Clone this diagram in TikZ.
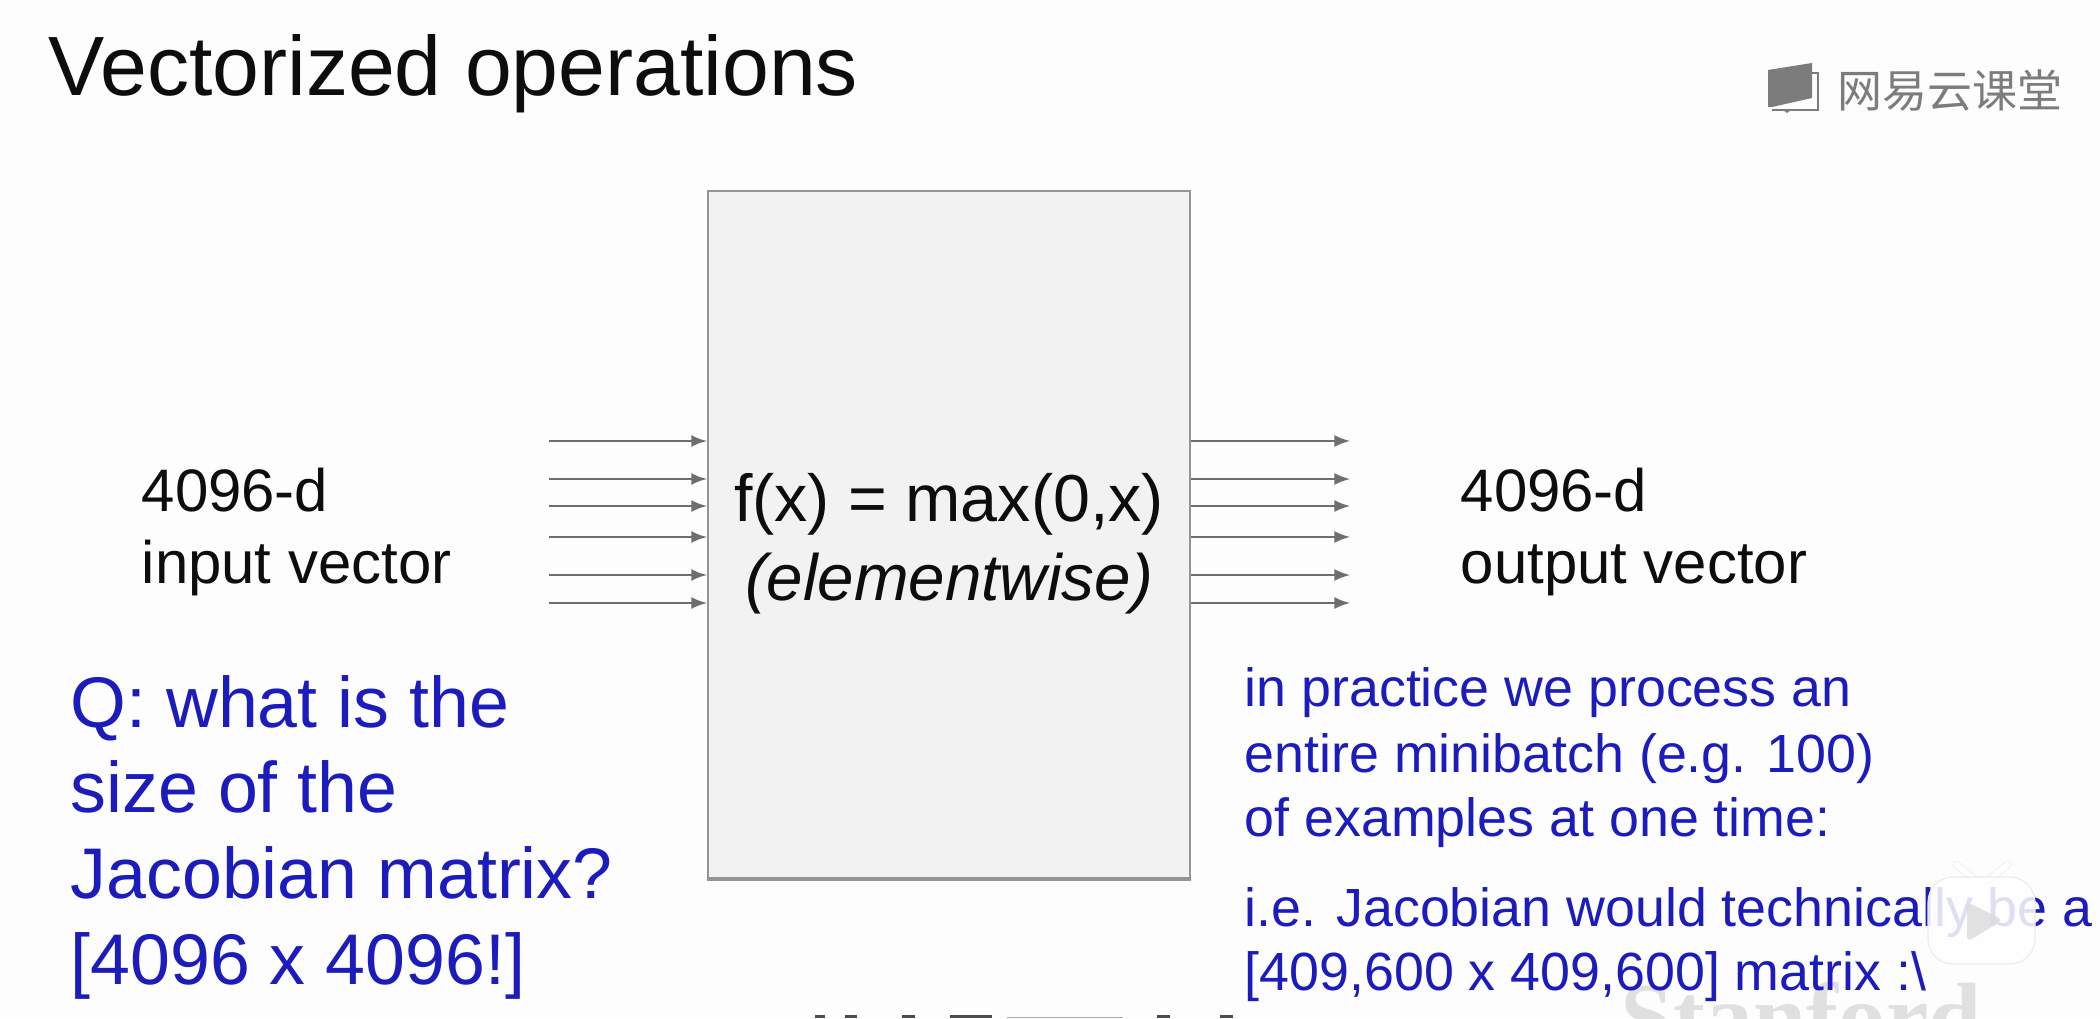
\documentclass[tikz,border=0pt]{standalone}
\usepackage{fontspec}
\setmainfont{Liberation Sans}
\newfontfamily\cjkfont{Noto Sans CJK SC}
\newfontfamily\crestfont{Liberation Serif}
\definecolor{slidebg}{HTML}{FDFDFD}
\definecolor{qblue}{HTML}{1C1CBC}
\definecolor{boxfill}{HTML}{F2F2F2}
\definecolor{boxline}{HTML}{949494}
\definecolor{arrowgray}{HTML}{6E6E6E}
\definecolor{logogray}{HTML}{7C7C7C}
\definecolor{crestgray}{HTML}{E0E0E0}
\tikzset{
  txt/.style={anchor=base west,inner sep=0pt,text=black!95},
  titletxt/.style={txt,font=\fontsize{23.95}{28}\selectfont},
  sidetxt/.style={txt,font=\fontsize{17.05}{20}\selectfont},
  midtxt/.style={anchor=base,inner sep=0pt,text=black!95,font=\fontsize{18.9}{22}\selectfont},
  qtxt/.style={txt,text=qblue,font=\fontsize{20.4}{24}\selectfont},
  notetxt/.style={txt,text=qblue,font=\fontsize{15.3}{18}\selectfont},
  fnbox/.style={draw=boxline,fill=boxfill,line width=0.6pt,inner sep=0pt,minimum width=4.82cm,minimum height=6.87cm},
  arr/.style={-latex,draw=arrowgray,line width=0.55pt}
}
\begin{document}
\begin{tikzpicture}
  \useasboundingbox (0,0) rectangle (21,10.18);
  \fill[slidebg] (0,0) rectangle (21,10.18);

  \draw (16.20,-0.31) node[anchor=base west,inner sep=0pt,text=crestgray,font=\crestfont\bfseries\fontsize{27.2}{30}\selectfont] (crest) {Stanford};

  \fill[black!70] (8.15,0) rectangle (8.25,0.03);
  \fill[black!70] (8.45,0) rectangle (8.57,0.03);
  \fill[black!70] (9.02,0) rectangle (9.15,0.03);
  \fill[black!70] (9.50,0) rectangle (9.92,0.03);
  \fill[black!35] (10.07,0) rectangle (11.23,0.015);
  \fill[black!70] (11.57,0) rectangle (11.70,0.03);
  \fill[black!70] (12.20,0) rectangle (12.33,0.03);

  \draw (0.48,9.22) node[titletxt] (title) {Vectorized operations};

  \fill[logogray] (17.68,9.48) -- (18.12,9.55) -- (18.12,9.20) -- (17.72,9.11) -- (17.68,9.11) -- cycle;
  \draw[logogray,line width=0.35pt] (18.12,9.45) -- (18.18,9.45) -- (18.18,9.08) -- (17.72,9.08);
  \fill[logogray] (17.83,9.08) -- (17.91,9.08) -- (17.87,9.05) -- cycle;
  \draw (18.37,9.10) node[anchor=base west,inner sep=0pt,text=logogray,font=\cjkfont\fontsize{12.8}{14}\selectfont] (brand) {网易云课堂};

  \node[fnbox] (fbox) at (9.49,4.835) {};
  \draw[boxline,line width=0.9pt] (fbox.south west) -- (fbox.south east);

  \draw (9.49,4.965) node[midtxt] (fname) {f(x) = max(0,x)};
  \draw (9.49,4.175) node[midtxt,font=\itshape\fontsize{18.65}{22}\selectfont] (fmode) {(elementwise)};

  \coordinate (in1) at (5.49,5.77);
  \coordinate (in2) at (5.49,5.39);
  \coordinate (in3) at (5.49,5.12);
  \coordinate (in4) at (5.49,4.81);
  \coordinate (in5) at (5.49,4.43);
  \coordinate (in6) at (5.49,4.15);
  \draw[arr] (in1) -- (in1 -| fbox.west);
  \draw[arr] (in2) -- (in2 -| fbox.west);
  \draw[arr] (in3) -- (in3 -| fbox.west);
  \draw[arr] (in4) -- (in4 -| fbox.west);
  \draw[arr] (in5) -- (in5 -| fbox.west);
  \draw[arr] (in6) -- (in6 -| fbox.west);

  \coordinate (out1) at (13.50,5.77);
  \coordinate (out2) at (13.50,5.39);
  \coordinate (out3) at (13.50,5.12);
  \coordinate (out4) at (13.50,4.81);
  \coordinate (out5) at (13.50,4.43);
  \coordinate (out6) at (13.50,4.15);
  \draw[arr] (out1 -| fbox.east) -- (out1);
  \draw[arr] (out2 -| fbox.east) -- (out2);
  \draw[arr] (out3 -| fbox.east) -- (out3);
  \draw[arr] (out4 -| fbox.east) -- (out4);
  \draw[arr] (out5 -| fbox.east) -- (out5);
  \draw[arr] (out6 -| fbox.east) -- (out6);

  \draw (1.41,5.065) node[sidetxt] (insize) {4096-d};
  \draw (1.41,4.345) node[sidetxt] (inname) {input vector};
  \draw (14.60,5.065) node[sidetxt] (outsize) {4096-d};
  \draw (14.60,4.345) node[sidetxt] (outname) {output vector};

  \draw (0.70,2.905) node[qtxt] (qone) {Q: what is the};
  \draw (0.70,2.055) node[qtxt] (qtwo) {size of the};
  \draw (0.70,1.195) node[qtxt] (qthree) {Jacobian matrix?};
  \draw (0.70,0.335) node[qtxt] (qfour) {[4096 x 4096!]};

  \draw (12.44,3.12) node[notetxt] (noteone) {in practice we process an};
  \draw (12.44,2.46) node[notetxt] (notetwo) {entire minibatch (e.g. 100)};
  \draw (12.44,1.82) node[notetxt] (notethree) {of examples at one time:};
  \draw (12.44,0.92) node[notetxt] (notefour) {i.e. Jacobian would technically be a};
  \draw (12.44,0.28) node[notetxt] (notefive) {[409,600 x 409,600] matrix :\textbackslash};

  \draw[black!8,line width=2.1pt,line cap=round] (19.57,1.53) -- (19.75,1.38);
  \draw[black!8,line width=2.1pt,line cap=round] (20.07,1.53) -- (19.89,1.38);
  \draw[white,line width=1.7pt,line cap=round] (19.57,1.53) -- (19.75,1.38);
  \draw[white,line width=1.7pt,line cap=round] (20.07,1.53) -- (19.89,1.38);
  \fill[white,opacity=.86,rounded corners=0.25cm] (19.28,0.54) rectangle (20.35,1.41);
  \draw[black!8,line width=0.3pt,rounded corners=0.25cm] (19.28,0.54) rectangle (20.35,1.41);
  \fill[black!14,opacity=.8,rounded corners=0.05cm] (19.67,1.16) -- (20.03,0.98) -- (19.67,0.76) -- cycle;
\end{tikzpicture}
\end{document}
